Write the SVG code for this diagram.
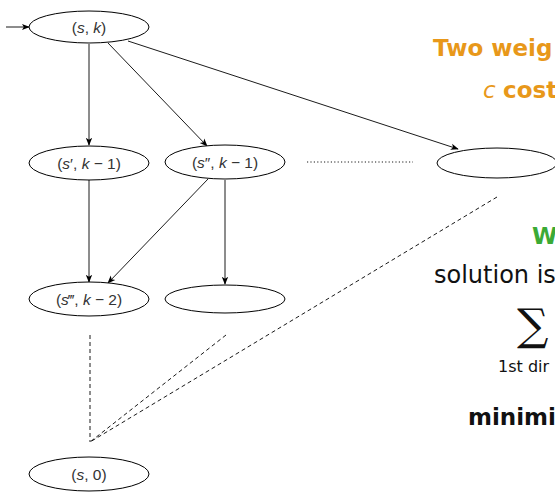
<svg xmlns="http://www.w3.org/2000/svg" width="555" height="499" viewBox="0 0 555 499">
  <style>
    .node ellipse { fill: #ffffff; stroke: #000000; stroke-width: 1; }
    .node text { font-family: "Liberation Sans", Arial, sans-serif; font-size: 15.5px; fill: #333333; text-anchor: middle; }
    .var { font-style: italic; }
    .edge { stroke: #000000; stroke-width: 0.9; fill: none; }
    .arrow { marker-end: url(#tip); }
    .dashed { stroke-dasharray: 4 3; }
    .dotted { stroke-dasharray: 1.2 2.2; }
    .side { font-family: "DejaVu Sans", "Liberation Sans", sans-serif; }
    .orange { fill: #E8981A; font-weight: bold; }
  </style>
  <defs>
    <marker id="tip" viewBox="0 0 10 10" refX="9" refY="5" markerWidth="8" markerHeight="8" markerUnits="userSpaceOnUse" orient="auto">
      <path d="M0,1 L10,5 L0,9 L2.5,5 Z" fill="#000000"/>
    </marker>
  </defs>

  <rect width="555" height="499" fill="#ffffff"/>

  <!-- connectors -->
  <g id="connectors">
    <line class="edge arrow" x1="6" y1="27" x2="29" y2="27"/>
    <line class="edge arrow" x1="89" y1="44" x2="89" y2="145"/>
    <line class="edge arrow" x1="108" y1="43" x2="207" y2="146"/>
    <line class="edge arrow" x1="128" y1="41" x2="458" y2="149"/>
    <line class="edge arrow" x1="89" y1="180" x2="89" y2="282"/>
    <line class="edge arrow" x1="208" y1="179" x2="108" y2="283"/>
    <line class="edge arrow" x1="225" y1="180" x2="225" y2="284"/>
    <line class="edge dotted" x1="307" y1="162" x2="413" y2="162"/>
    <line class="edge dashed" x1="90" y1="335" x2="90" y2="442"/>
    <line class="edge dashed" x1="226" y1="335" x2="90" y2="442"/>
    <line class="edge dashed" x1="497" y1="197" x2="90" y2="442"/>
  </g>

  <!-- nodes -->
  <g id="n-s-k" class="node">
    <ellipse cx="89" cy="27" rx="60" ry="16"/>
    <text x="89" y="32.5">(<tspan class="var">s</tspan>, <tspan class="var">k</tspan>)</text>
  </g>
  <g id="n-s1-k1" class="node">
    <ellipse cx="89" cy="163" rx="60" ry="17"/>
    <text x="89" y="168.5">(<tspan class="var">s</tspan>′, <tspan class="var">k</tspan> − 1)</text>
  </g>
  <g id="n-s2-k1" class="node">
    <ellipse cx="225" cy="162" rx="60" ry="17"/>
    <text x="225" y="167.5">(<tspan class="var">s</tspan>″, <tspan class="var">k</tspan> − 1)</text>
  </g>
  <g id="n-right" class="node">
    <ellipse cx="497" cy="163" rx="60" ry="15"/>
  </g>
  <g id="n-s3-k2" class="node">
    <ellipse cx="89" cy="299" rx="60" ry="17"/>
    <text x="89" y="304.5">(<tspan class="var">s</tspan>‴, <tspan class="var">k</tspan> − 2)</text>
  </g>
  <g id="n-mid" class="node">
    <ellipse cx="225" cy="299" rx="60" ry="14"/>
  </g>
  <g id="n-s-0" class="node">
    <ellipse cx="89" cy="474" rx="60" ry="17"/>
    <text x="89" y="479.5">(<tspan class="var">s</tspan>, 0)</text>
  </g>

  <!-- side column -->
  <g id="notes" class="side">
    <text x="433" y="56" class="orange" font-size="23">Two weig</text>
    <text x="483" y="98" font-size="23" fill="#E8981A" font-style="italic">c</text>
    <text x="503" y="98" class="orange" font-size="23">cost</text>
    <text x="532" y="244" font-size="23" font-weight="bold" fill="#3BAA35">W</text>
    <text x="434" y="283" font-size="24" fill="#111111">solution is</text>
    <text x="517" y="340" font-size="44" fill="#111111" font-family="'DejaVu Serif', serif">∑</text>
    <text x="498" y="372" font-size="16" fill="#111111">1st dir</text>
    <text x="468" y="425" font-size="23" font-weight="bold" fill="#111111">minimi</text>
  </g>
</svg>
